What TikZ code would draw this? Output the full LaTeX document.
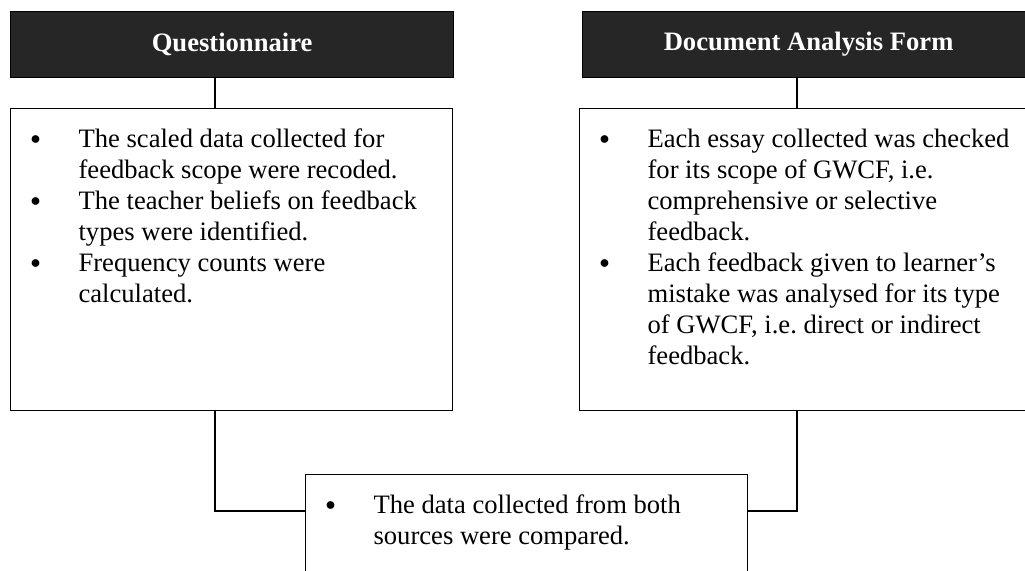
\documentclass[tikz,border=0pt]{standalone}
\usepackage{fontspec}
\setmainfont{Liberation Serif}
\usepackage{tikz}
\definecolor{headgray}{HTML}{262626}
\newcommand{\dotmark}{\raisebox{1.3pt}{\fontsize{10}{10}\selectfont$\bullet$}}
\newenvironment{blist}[2]{\vspace*{10pt}\frenchspacing\begin{list}{\dotmark}{\setlength{\leftmargin}{#1}\setlength{\labelwidth}{6pt}\setlength{\labelsep}{#2}\setlength{\topsep}{0pt}\setlength{\partopsep}{0pt}\setlength{\itemsep}{0pt}\setlength{\parsep}{0pt}}}{\end{list}}

\begin{document}
\begin{tikzpicture}[x=0.5pt,y=-0.5pt,line width=0.6pt,font=\fontsize{13.3}{15.5}\selectfont,
  head/.style={draw=black,fill=headgray,text=white,font=\fontsize{13.3}{15.5}\selectfont\bfseries,anchor=north west,inner sep=0pt,minimum height=33pt},
  info/.style={draw=black,anchor=north west,inner sep=0pt}]
\useasboundingbox (0,0) rectangle (1025,571);
\clip (0,0) rectangle (1025,571);
\node[head,minimum width=221.5pt] (qh) at (10,11) {Questionnaire};
\node[head,minimum width=226pt] (dh) at (582,11) {Document Analysis Form};
\node[info] (qb) at (10,108) {\parbox[t][151pt][t]{221pt}{\begin{blist}{34pt}{19pt}
\item The scaled data collected for\\feedback scope were recoded.
\item The teacher beliefs on feedback\\types were identified.
\item Frequency counts were\\calculated.
\end{blist}}};
\node[info] (db) at (579,108) {\parbox[t][151pt][t]{227.5pt}{\begin{blist}{34pt}{19pt}
\item Each essay collected was checked\\for its scope of GWCF, i.e.\\comprehensive or selective\\feedback.
\item Each feedback given to learner's\\mistake was analysed for its type\\of GWCF, i.e. direct or indirect\\feedback.
\end{blist}}};
\node[info] (cb) at (305,474) {\parbox[t][60pt][t]{221pt}{\begin{blist}{34pt}{19pt}
\item The data collected from both\\sources were compared.
\end{blist}}};
\coordinate (qx) at (215,0);
\coordinate (dx) at (797,0);
\draw (qh.south -| qx) -- (qb.north -| qx);
\draw (dh.south -| dx) -- (db.north -| dx);
\draw (qb.south -| qx) |- ([yshift=-18.5pt]cb.north west);
\draw (db.south -| dx) |- ([yshift=-18.5pt]cb.north east);
\end{tikzpicture}
\end{document}
